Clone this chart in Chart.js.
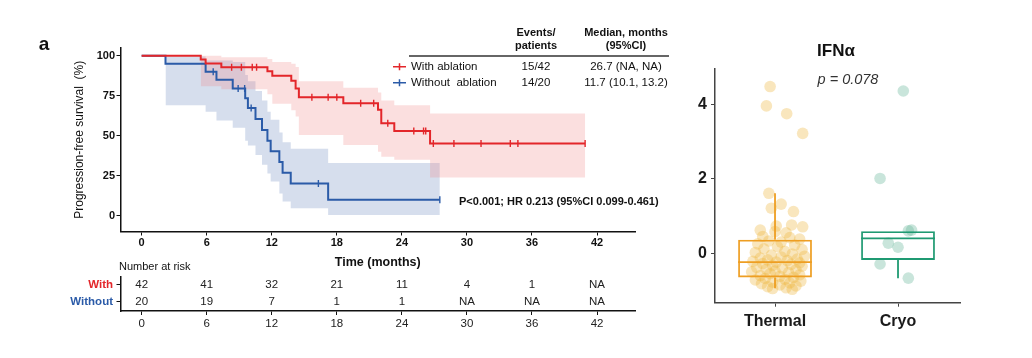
<!DOCTYPE html>
<html>
<head>
<meta charset="utf-8">
<script src="https://cdn.jsdelivr.net/npm/chart.js@4.4.1/dist/chart.umd.min.js"></script>
<style>
  html, body { margin: 0; padding: 0; background: #fff; }
  #wrap { position: relative; width: 1032px; height: 358px; overflow: hidden; }
  canvas { position: absolute; }
</style>
</head>
<body>
<div id="wrap">
  <canvas id="km" width="690" height="275" style="left:0;top:0"></canvas>
  <canvas id="risk" width="690" height="85" style="left:0;top:255px"></canvas>
  <canvas id="box" width="342" height="358" style="left:690px;top:0"></canvas>
</div>
<script>
// ---- Kaplan-Meier data ----
const months = [0, 6, 12, 18, 24, 30, 36, 42];

const withTime = [0, 5.45, 5.9, 7.35, 11.6, 12.05, 13.8, 14.2, 14.5, 18.6, 21.8, 22.1, 23.3, 26.6, 40.9];
const withSurv = [100, 97.6, 95.2, 92.8, 90.3, 87.5, 84.4, 79.6, 74.0, 70.3, 66.3, 57.8, 53.0, 45.2, 45.2];
const withCensor = [8.3, 9.2, 10.2, 10.6, 15.7, 17.2, 18.0, 20.2, 21.4, 22.7, 25.1, 26.0, 26.2, 26.9, 28.8, 31.3, 34.0, 34.7, 40.9];

const withoutTime = [0, 2.2, 5.9, 6.9, 8.4, 9.55, 9.8, 10.5, 11.1, 11.6, 11.9, 12.7, 13.0, 13.75, 17.2, 27.5];
const withoutSurv = [100, 95, 90, 85, 79.5, 73.4, 67.3, 60.5, 53.7, 47.0, 40.3, 33.6, 26.9, 20.2, 10.1, 10.1];
const withoutCensor = [6.6, 8.9, 9.5, 10.1, 16.3, 27.5];

// 95% CI bands
const withBandTime = [5.45, 7.35, 11.6, 12.05, 13.8, 14.2, 14.5, 18.6, 21.8, 22.1, 23.3, 26.6, 40.9];
const withLower = [81, 79, 76, 70, 66, 62, 50.5, 44.3, 40, 37, 35, 24, 24];
const withUpper = [100, 99, 98, 96, 95, 93, 84, 80, 77, 72, 69, 64, 64];

const withoutBandTime = [2.2, 5.9, 6.9, 8.4, 9.55, 9.8, 10.5, 11.1, 11.6, 11.9, 12.7, 13.0, 13.75, 17.2, 27.5];
const withoutLower = [69, 65, 59.6, 55, 47, 44, 38, 32, 26.5, 21.5, 14, 9, 4.8, 0.6, 0.6];
const withoutUpper = [99.5, 97, 97, 96, 88, 84, 78, 72, 65, 60, 52, 46, 42, 33, 33];

// number at risk
const rowNames = ['With', 'Without'];
const riskWith = ['42', '41', '32', '21', '11', '4', '1', 'NA'];
const riskWithout = ['20', '19', '7', '1', '1', 'NA', 'NA', 'NA'];

// legend table
const legendNames = ['With ablation', 'Without  ablation'];
const eventsText = ['15/42', '14/20'];
const medianText = ['26.7 (NA, NA)', '11.7 (10.1, 13.2)'];
const pText = 'P<0.001; HR 0.213 (95%CI 0.099-0.461)';

// ---- IFN-alpha box plot data ----
const groupNames = ['Thermal', 'Cryo'];
const thermalValues = [4.48, 3.96, 3.75, 3.22, 1.61, 1.21, 1.32, 1.12, 0.73, 0.76, 0.71, 0.58, 0.62, 0.55,
  0.45, 0.42, 0.38, 0.33, 0.30, 0.25, 0.22, 0.18, 0.12, 0.10, 0.05, 0.02, -0.02, -0.05, -0.08, -0.10,
  -0.13, -0.16, -0.18, -0.20, -0.22, -0.24, -0.26, -0.28, -0.30, -0.33, -0.35, -0.38, -0.40, -0.43,
  -0.45, -0.48, -0.50, -0.52, -0.55, -0.58, -0.60, -0.62, -0.65, -0.68, -0.70, -0.72, -0.75, -0.78,
  -0.80, -0.82, -0.85, -0.88, -0.90, -0.93, -0.95, -0.97];
const thermalJitter = [-0.04, -0.07, 0.095, 0.225, -0.05, -0.03, 0.05, 0.15, 0.01, 0.135, 0.225, 0.0, -0.12, 0.09,
  -0.10, 0.12, 0.20, -0.05, 0.05, -0.14, 0.16, 0.02, -0.09, 0.22, 0.08, -0.16, 0.14, -0.03, 0.24, 0.05,
  -0.12, 0.18, -0.06, 0.10, -0.18, 0.01, 0.20, -0.10, 0.13, -0.02, 0.22, -0.15, 0.06, -0.07,
  0.17, 0.00, -0.19, 0.11, -0.04, 0.20, -0.12, 0.04, 0.15, -0.08, 0.08, -0.16, 0.21, -0.02,
  0.12, -0.11, 0.04, 0.17, -0.06, 0.09, -0.02, 0.14];
const cryoValues = [4.36, 2.01, 0.60, 0.62, 0.27, 0.16, -0.29, -0.67];
const cryoJitter = [0.043, -0.146, 0.084, 0.11, -0.079, 0.0, -0.146, 0.084];

const boxLow = [-0.94, -0.67];
const boxQ1 = [-0.65, -0.18];
const boxMed = [-0.24, 0.40];
const boxQ3 = [0.36, 0.59];
const boxHigh = [1.61, 0.59];

// ---- styling ----
const FONT = "'Liberation Sans', Arial, Helvetica, sans-serif";
Chart.defaults.font.family = FONT;
Chart.defaults.color = '#111';
const RED = '#e3262a', BLUE = '#2b5ba8';
const BOX_COLORS = ['#ee9e22', '#1f9a72'];
const PT_COLORS = ['rgba(238,182,62,0.34)', 'rgba(96,180,150,0.34)'];

function pts(ts, vs) { return ts.map((t, i) => ({ x: t, y: vs[i] })); }
function survAt(ts, vs, t) {
  let s = vs[0];
  for (let i = 0; i < ts.length; i++) { if (ts[i] <= t) s = vs[i]; }
  return s;
}
const fixTicks = vals => s => { s.ticks = vals.map(v => ({ value: v })); };

// ---- KM plot ----
const kmNotes = {
  id: 'kmNotes',
  afterDraw(chart) {
    const c = chart.ctx;
    c.save();
    c.fillStyle = '#111';
    c.textBaseline = 'middle';
    c.textAlign = 'center';
    c.font = `bold 19px ${FONT}`;
    c.fillText('a', 44, 45);

    c.font = `bold 11px ${FONT}`;
    c.fillText('Events/', 536, 33);
    c.fillText('patients', 536, 46);
    c.fillText('Median, months', 626, 33);
    c.fillText('(95%CI)', 626, 46);
    c.strokeStyle = '#333';
    c.lineWidth = 1.5;
    c.beginPath(); c.moveTo(409, 56); c.lineTo(669, 56); c.stroke();

    const cols = [RED, BLUE];
    const rowY = [66.7, 82.7];
    for (let i = 0; i < 2; i++) {
      c.strokeStyle = cols[i];
      c.lineWidth = 1.5;
      c.beginPath();
      c.moveTo(393, rowY[i]); c.lineTo(406, rowY[i]);
      c.moveTo(399.5, rowY[i] - 3.5); c.lineTo(399.5, rowY[i] + 3.5);
      c.stroke();
      c.font = `11.5px ${FONT}`;
      c.textAlign = 'left';
      c.fillText(legendNames[i], 411, rowY[i]);
      c.textAlign = 'center';
      c.fillText(eventsText[i], 536, rowY[i]);
      c.fillText(medianText[i], 626, rowY[i]);
    }

    c.font = `bold 11px ${FONT}`;
    c.textAlign = 'left';
    c.fillText(pText, 459, 202);

    c.font = `11px ${FONT}`;
    c.fillText('Number at risk', 119, 267);
    c.restore();
  }
};

new Chart(document.getElementById('km'), {
  type: 'line',
  data: {
    datasets: [
      { data: withCensor.map(t => ({ x: t, y: survAt(withTime, withSurv, t) })), showLine: false,
        pointStyle: 'line', rotation: 90, pointRadius: 3.5, pointBorderWidth: 1.4, pointBorderColor: RED },
      { data: withoutCensor.map(t => ({ x: t, y: survAt(withoutTime, withoutSurv, t) })), showLine: false,
        pointStyle: 'line', rotation: 90, pointRadius: 3.5, pointBorderWidth: 1.4, pointBorderColor: BLUE },
      { data: pts(withTime, withSurv), stepped: true, borderColor: RED, borderWidth: 2, pointRadius: 0, fill: false },
      { data: pts(withoutTime, withoutSurv), stepped: true, borderColor: BLUE, borderWidth: 2, pointRadius: 0, fill: false },
      { data: pts(withBandTime, withUpper), stepped: true, borderWidth: 0, borderColor: 'rgba(0,0,0,0)', pointRadius: 0,
        fill: '+1', backgroundColor: 'rgba(238,120,120,0.24)' },
      { data: pts(withBandTime, withLower), stepped: true, borderWidth: 0, borderColor: 'rgba(0,0,0,0)', pointRadius: 0, fill: false },
      { data: pts(withoutBandTime, withoutUpper), stepped: true, borderWidth: 0, borderColor: 'rgba(0,0,0,0)', pointRadius: 0,
        fill: '+1', backgroundColor: 'rgba(90,125,185,0.25)' },
      { data: pts(withoutBandTime, withoutLower), stepped: true, borderWidth: 0, borderColor: 'rgba(0,0,0,0)', pointRadius: 0, fill: false }
    ]
  },
  options: {
    responsive: false, animation: false, devicePixelRatio: 1, events: [],
    layout: { padding: { left: 0, right: 55, top: 48, bottom: 0 } },
    plugins: { legend: { display: false }, tooltip: { enabled: false } },
    scales: {
      x: {
        type: 'linear', min: -1.95, max: 45.5,
        afterBuildTicks: fixTicks(months),
        afterFit: s => { s.height = 43.5; },
        ticks: { font: { size: 11, weight: 'bold' }, color: '#111', padding: 1, maxRotation: 0, autoSkip: false },
        grid: { drawOnChartArea: false, tickLength: 4, color: '#111' },
        border: { color: '#111', width: 1.5 },
        title: { display: true, text: 'Time (months)', font: { size: 12.5, weight: 'bold' }, color: '#111',
          padding: { top: 0, bottom: 4.5 } }
      },
      y: {
        type: 'linear', min: -9.7, max: 104.8,
        afterBuildTicks: fixTicks([0, 25, 50, 75, 100]),
        afterFit: s => { s.width = 120.5; },
        ticks: { font: { size: 11, weight: 'bold' }, color: '#111', padding: 1.5 },
        grid: { drawOnChartArea: false, tickLength: 4, color: '#111' },
        border: { color: '#111', width: 1.5 },
        title: { display: true, text: 'Progression-free survival  (%)', font: { size: 12 }, color: '#111',
          padding: { top: 72.8, bottom: 0 } }
      }
    }
  },
  plugins: [kmNotes]
});

// ---- number at risk table ----
const riskRows = [riskWith, riskWithout];
const riskText = {
  id: 'riskText',
  afterDatasetsDraw(chart) {
    const c = chart.ctx;
    c.save();
    c.fillStyle = '#222';
    c.font = `11.5px ${FONT}`;
    c.textAlign = 'center';
    c.textBaseline = 'middle';
    riskRows.forEach((row, d) => {
      chart.getDatasetMeta(d).data.forEach((el, i) => c.fillText(row[i], el.x, el.y));
    });
    c.restore();
  }
};

new Chart(document.getElementById('risk'), {
  type: 'scatter',
  data: {
    datasets: riskRows.map((row, d) => ({
      data: months.map(m => ({ x: m, y: d })), pointRadius: 0, showLine: false
    }))
  },
  options: {
    responsive: false, animation: false, devicePixelRatio: 1, events: [],
    layout: { padding: { left: 0, right: 55, top: 22, bottom: 0 } },
    plugins: { legend: { display: false }, tooltip: { enabled: false } },
    scales: {
      x: {
        type: 'linear', min: -1.95, max: 45.5,
        afterBuildTicks: fixTicks(months),
        afterFit: s => { s.height = 29; },
        ticks: { font: { size: 11.5 }, color: '#222', padding: 2, maxRotation: 0, autoSkip: false },
        grid: { drawOnChartArea: false, tickLength: 4, color: '#111' },
        border: { color: '#111', width: 1.5 }
      },
      y: {
        type: 'linear', reverse: true, min: -0.45, max: 1.55,
        afterBuildTicks: fixTicks([0, 1]),
        afterFit: s => { s.width = 120.5; },
        ticks: {
          font: { size: 11.5, weight: 'bold' }, padding: 3.5,
          color: ctx => (ctx.index === 0 ? RED : BLUE),
          callback: (v, i) => rowNames[i]
        },
        grid: { drawOnChartArea: false, tickLength: 4, color: '#111' },
        border: { color: '#111', width: 1.5 }
      }
    }
  },
  plugins: [riskText]
});

// ---- IFN-alpha box plot ----
const boxNotes = {
  id: 'boxNotes',
  afterDraw(chart) {
    const c = chart.ctx;
    c.save();
    c.fillStyle = '#111';
    c.textAlign = 'center';
    c.textBaseline = 'middle';
    c.font = `bold 17px ${FONT}`;
    c.fillText('IFNα', 146, 51.5);
    c.fillStyle = '#333';
    c.font = `italic 14.5px ${FONT}`;
    c.fillText('p = 0.078', 158, 80);
    c.restore();
  }
};

const whiskerSets = groupNames.map((g, i) => ({
  type: 'line',
  data: [
    { x: i, y: boxLow[i] }, { x: i, y: boxQ1[i] }, { x: i, y: null },
    { x: i, y: boxQ3[i] }, { x: i, y: boxHigh[i] }, { x: i, y: null },
    { x: i - 0.3, y: boxMed[i] }, { x: i + 0.3, y: boxMed[i] }
  ],
  borderColor: BOX_COLORS[i], borderWidth: 1.8, pointRadius: 0, spanGaps: false, fill: false
}));

new Chart(document.getElementById('box'), {
  type: 'scatter',
  data: {
    datasets: [
      ...whiskerSets,
      {
        type: 'bar',
        data: groupNames.map((g, i) => ({ x: i, y: [boxQ1[i], boxQ3[i]] })),
        backgroundColor: 'rgba(0,0,0,0)', borderColor: BOX_COLORS, borderWidth: 1.8,
        borderSkipped: false, barPercentage: 0.6, categoryPercentage: 1, grouped: false
      },
      { data: thermalValues.map((v, k) => ({ x: thermalJitter[k], y: v })),
        pointRadius: 5.8, backgroundColor: PT_COLORS[0], borderWidth: 0 },
      { data: cryoValues.map((v, k) => ({ x: 1 + cryoJitter[k], y: v })),
        pointRadius: 5.8, backgroundColor: PT_COLORS[1], borderWidth: 0 }
    ]
  },
  options: {
    responsive: false, animation: false, devicePixelRatio: 1, events: [],
    layout: { padding: { left: 0, right: 72, top: 68.3, bottom: 0 } },
    plugins: { legend: { display: false }, tooltip: { enabled: false } },
    scales: {
      x: {
        type: 'linear', min: -0.488, max: 1.504, offset: false,
        afterBuildTicks: fixTicks([0, 1]),
        afterFit: s => { s.height = 55.3; },
        ticks: { font: { size: 16, weight: 'bold' }, color: '#1a1a1a', padding: 5, maxRotation: 0, autoSkip: false,
          callback: (v, i) => groupNames[i] },
        grid: { offset: false, drawOnChartArea: false, tickLength: 4, color: '#444' },
        border: { color: '#444', width: 1.5 }
      },
      y: {
        type: 'linear', min: -1.33, max: 4.97,
        afterBuildTicks: fixTicks([0, 2, 4]),
        afterFit: s => { s.width = 25; },
        ticks: { font: { size: 16, weight: 'bold' }, color: '#1a1a1a', padding: 4 },
        grid: { drawOnChartArea: false, tickLength: 4, color: '#444' },
        border: { color: '#444', width: 1.5 }
      }
    }
  },
  plugins: [boxNotes]
});
</script>
</body>
</html>
